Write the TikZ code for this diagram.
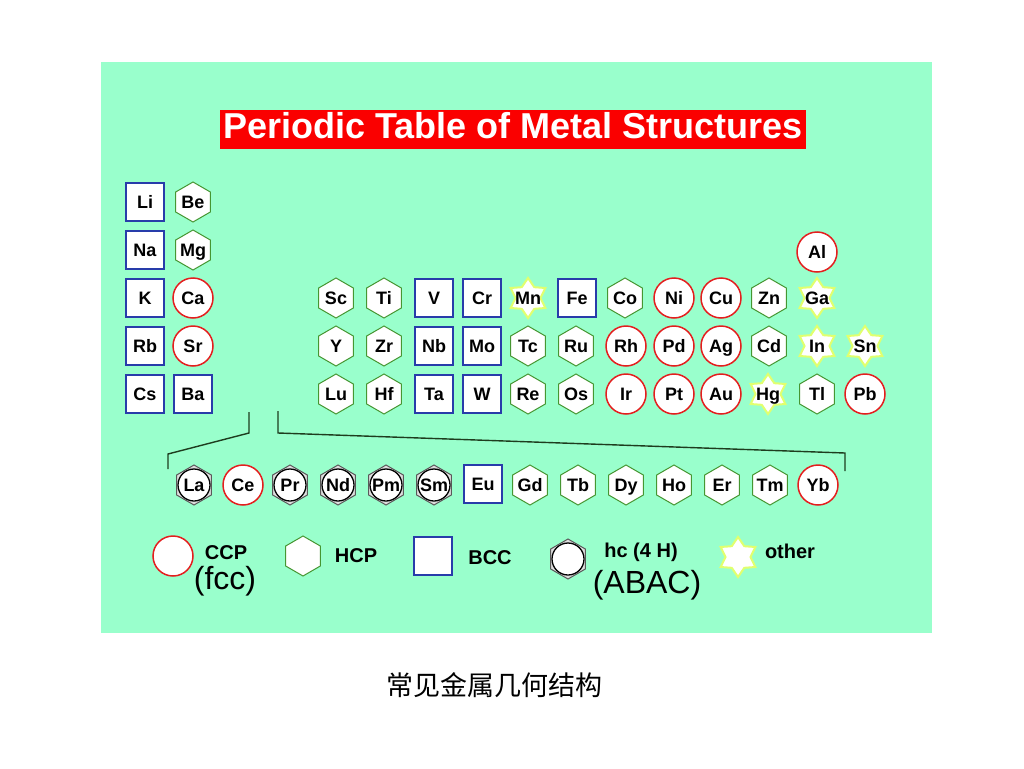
\documentclass[tikz,border=0pt]{standalone}
\usepackage{fontspec}
\setmainfont{Liberation Sans}
\newfontfamily\cjk{Noto Sans CJK SC}
\usepackage{xcolor}
\usepackage{tikz}
\usetikzlibrary{shapes}
\usetikzlibrary{shapes.geometric}
\definecolor{mint}{RGB}{153,255,204}
\definecolor{titlered}{RGB}{250,0,0}
\definecolor{ccpred}{RGB}{228,30,30}
\definecolor{hcpgreen}{RGB}{70,150,50}
\definecolor{bccblue}{RGB}{40,60,170}
\definecolor{othyellow}{RGB}{225,255,110}
\definecolor{bracegreen}{RGB}{30,60,30}
\newcommand{\elemfont}{\fontsize{18}{20}\selectfont\bfseries}
\tikzset{
    elabel/.style = {font=\elemfont, inner sep=0pt, text height=13pt, text depth=0pt},
    elem/.style = {fill=white, inner sep=0pt, font=\elemfont, text height=13pt, text depth=0pt},
    ccp/.style = {elem, circle, draw=ccpred, line width=1.5pt, minimum size=40pt},
    hcp/.style = {elem, regular polygon, regular polygon sides=6, shape border rotate=30, inner sep=-3pt, draw=hcpgreen, line width=1pt, minimum size=40pt},
    bcc/.style = {elem, rectangle, draw=bccblue, line width=1.5pt, minimum size=38pt},
    hcf/.style = {hcp, draw=gray!70!black, fill=gray!25, path picture={\draw[black, line width=1.3pt, fill=white] (path picture bounding box.center) circle (16pt);}, label={[elabel]center:#1}},
    oth/.style = {elem, star, star points=6, star point ratio=1.6, draw=othyellow, line width=2pt, minimum size=40pt, label={[elabel]center:#1}},
    legtext/.style = {inner sep=0pt, font=\fontsize{20}{22}\selectfont\bfseries},
    legsub/.style = {inner sep=0pt, font=\fontsize{32}{36}\selectfont},
}
\begin{document}
\begin{tikzpicture}[x=1pt, y=-1pt]
\tikzset{
    brace/.style = {draw=bracegreen, line width=1.4pt},
}
\useasboundingbox (0,0) rectangle (1024,768);
\fill[white] (0,0) rectangle (1024,768);
\fill[mint] (101,62) rectangle (932,633);
\node[fill=titlered, text=white, inner sep=0pt, minimum width=586pt, minimum height=39pt, text height=26pt, text depth=8pt, font=\fontsize{36}{40}\selectfont\bfseries] (title) at (513,129.5) {Periodic Table of Metal Structures};
%
\node[bcc] at (145,202) (li) {Li};
\node[hcp] at (193,202) (be) {Be};
\node[bcc] at (145,250) (na) {Na};
\node[hcp] at (193,250) (mg) {Mg};
\node[ccp] at (817,252) (al) {Al};
%
\node[bcc] at (145,298) (k) {K};
\node[ccp] at (193,298) (ca) {Ca};
\node[hcp] at (336,298) (sc) {Sc};
\node[hcp] at (384,298) (ti) {Ti};
\node[bcc] at (434,298) (v) {V};
\node[bcc] at (482,298) (cr) {Cr};
\node[oth=Mn] at (528,298) (mn) {};
\node[bcc] at (577,298) (fe) {Fe};
\node[hcp] at (625,298) (co) {Co};
\node[ccp] at (674,298) (ni) {Ni};
\node[ccp] at (721,298) (cu) {Cu};
\node[hcp] at (769,298) (zn) {Zn};
\node[oth=Ga] at (817,298) (ga) {};
%
\node[bcc] at (145,346) (rb) {Rb};
\node[ccp] at (193,346) (sr) {Sr};
\node[hcp] at (336,346) (y) {Y};
\node[hcp] at (384,346) (zr) {Zr};
\node[bcc] at (434,346) (nb) {Nb};
\node[bcc] at (482,346) (mo) {Mo};
\node[hcp] at (528,346) (tc) {Tc};
\node[hcp] at (576,346) (ru) {Ru};
\node[ccp] at (626,346) (rh) {Rh};
\node[ccp] at (674,346) (pd) {Pd};
\node[ccp] at (721,346) (ag) {Ag};
\node[hcp] at (769,346) (cd) {Cd};
\node[oth=In] at (817,346) (in) {};
\node[oth=Sn] at (865,346) (sn) {};
%
\node[bcc] at (145,394) (cs) {Cs};
\node[bcc] at (193,394) (ba) {Ba};
\node[hcp] at (336,394) (lu) {Lu};
\node[hcp] at (384,394) (hf) {Hf};
\node[bcc] at (434,394) (ta) {Ta};
\node[bcc] at (482,394) (w) {W};
\node[hcp] at (528,394) (re) {Re};
\node[hcp] at (576,394) (os) {Os};
\node[ccp] at (626,394) (ir) {Ir};
\node[ccp] at (674,394) (pt) {Pt};
\node[ccp] at (721,394) (au) {Au};
\node[oth=Hg] at (768,394) (hg) {};
\node[hcp] at (817,394) (tl) {Tl};
\node[ccp] at (865,394) (pb) {Pb};
%
\draw[brace] (249,412) -- (249,433) -- (168,454) -- (168,469);
\draw[brace] (278,411) -- (278,433) -- (845,453) -- (845,471);
%
\node[hcf=La] at (194,485) (la) {};
\node[ccp] at (243,485) (ce) {Ce};
\node[hcf=Pr] at (290,485) (pr) {};
\node[hcf=Nd] at (338,485) (nd) {};
\node[hcf=Pm] at (386,485) (pm) {};
\node[hcf=Sm] at (434,485) (sm) {};
\node[bcc] at (483,484) (eu) {Eu};
\node[hcp] at (530,485) (gd) {Gd};
\node[hcp] at (578,485) (tb) {Tb};
\node[hcp] at (626,485) (dy) {Dy};
\node[hcp] at (674,485) (ho) {Ho};
\node[hcp] at (722,485) (er) {Er};
\node[hcp] at (770,485) (tm) {Tm};
\node[ccp] at (818,485) (yb) {Yb};
%
\node[ccp] at (173,556) (kccp) {};
\node[legtext] at (226,553) {CCP};
\node[legsub] at (225,581) {(fcc)};
\node[hcp] at (303,556) (khcp) {};
\node[legtext] at (356,556) {HCP};
\node[bcc] at (433,556) (kbcc) {};
\node[legtext] at (490,558) {BCC};
\node[hcf={}] at (568,559) (khc) {};
\node[legtext] at (641,552) {hc (4 H)};
\node[legsub] at (647,585) {(ABAC)};
\node[oth={}] at (738,557) (koth) {};
\node[legtext] at (790,551) {other};
%
\node[font=\cjk\fontsize{27}{30}\selectfont] (caption) at (494,685) {常见金属几何结构};
\end{tikzpicture}
\end{document}
